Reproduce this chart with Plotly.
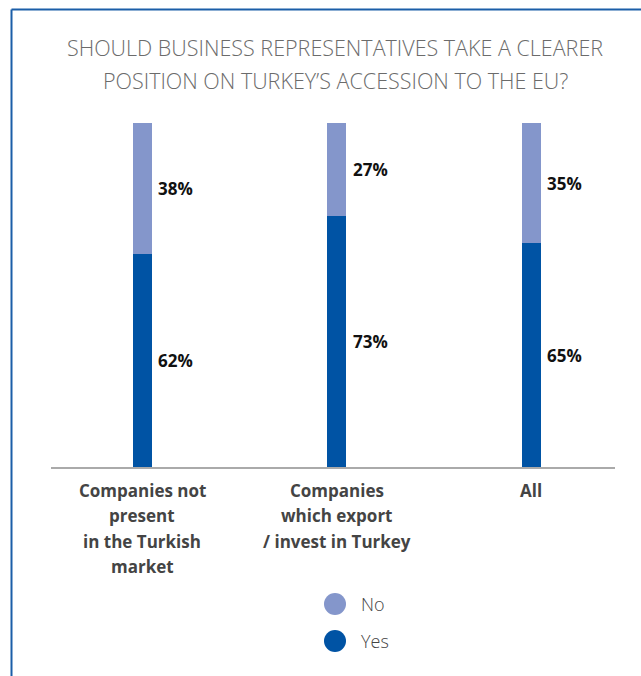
import plotly.graph_objects as go

categories = ["Companies not<br>present<br>in the Turkish<br>market",
              "Companies<br>which export<br>/ invest in Turkey",
              "All"]
yes_values = [62, 73, 65]
no_values = [38, 27, 35]
series_names = ["No", "Yes"]
title_lines = ["SHOULD BUSINESS REPRESENTATIVES TAKE A CLEARER",
               "POSITION ON TURKEY\u2019S ACCESSION TO THE EU?"]

YES_COLOR = "#0053a4"
NO_COLOR = "#8496cb"
FRAME_COLOR = "#1b5ea8"

W, H = 641, 676
L, R, T, B = 51, 26, 123, 209
PW, PH = W - L - R, H - T - B


def px(xp):
    return (xp - L) / PW


def py(yp):
    return (H - B - yp) / PH


xs = list(range(len(categories)))

fig = go.Figure()
fig.add_trace(go.Bar(x=xs, y=yes_values, name="Yes", marker_color=YES_COLOR,
                     width=0.098, showlegend=False, marker_line_width=0))
fig.add_trace(go.Bar(x=xs, y=no_values, name="No", marker_color=NO_COLOR,
                     width=0.098, showlegend=False, marker_line_width=0))

annotations = []
# value labels
for i, (yv, nv) in enumerate(zip(yes_values, no_values)):
    annotations.append(dict(x=i, y=yv / 2, xref="x", yref="y", text=f"<b>{yv}%</b>",
                            showarrow=False, xanchor="left", yanchor="middle", xshift=14,
                            font=dict(family="Open Sans", size=17, color="#111111")))
    annotations.append(dict(x=i, y=yv + nv / 2, xref="x", yref="y", text=f"<b>{nv}%</b>",
                            showarrow=False, xanchor="left", yanchor="middle", xshift=14,
                            font=dict(family="Open Sans", size=17, color="#111111")))

# category labels, one annotation per line
for i, cat in enumerate(categories):
    for j, line in enumerate(cat.split("<br>")):
        annotations.append(dict(x=i, y=0, xref="x", yref="y", text=f"<b>{line}</b>",
                                showarrow=False, xanchor="center", yanchor="middle",
                                yshift=-(23 + 25.5 * j),
                                font=dict(family="Open Sans", size=17, color="#444444")))

# title
for j, line in enumerate(title_lines):
    annotations.append(dict(x=px(335), y=py(47 + 33 * j), xref="paper", yref="paper",
                            text=line, showarrow=False, xanchor="center", yanchor="middle",
                            font=dict(family="Open Sans", size=21.5, color="#6b6b6b",
                                      weight=300)))

# legend (manual)
shapes = []
legend_colors = {"No": NO_COLOR, "Yes": YES_COLOR}
for j, name in enumerate(series_names):
    cy = 604 + 37 * j
    shapes.append(dict(type="circle", xref="paper", yref="paper",
                       x0=px(324), x1=px(346), y0=py(cy + 11), y1=py(cy - 11),
                       fillcolor=legend_colors[name], line=dict(width=0)))
    annotations.append(dict(x=px(359), y=py(cy), xref="paper", yref="paper", text=name,
                            showarrow=False, xanchor="left", yanchor="middle",
                            font=dict(family="Open Sans", size=18, color="#444444",
                                      weight=300)))

# frame
shapes.append(dict(type="line", xref="paper", yref="paper", x0=px(11.5), x1=px(645),
                   y0=py(9.5), y1=py(9.5), line=dict(color=FRAME_COLOR, width=2)))
shapes.append(dict(type="line", xref="paper", yref="paper", x0=px(11.5), x1=px(11.5),
                   y0=py(9.5), y1=py(680), line=dict(color=FRAME_COLOR, width=2)))

fig.update_layout(
    barmode="stack",
    width=W, height=H,
    margin=dict(l=L, r=R, t=T, b=B, pad=0),
    paper_bgcolor="white", plot_bgcolor="white",
    xaxis=dict(range=[-0.47, 2.43], showline=True, linecolor="#aaaaaa", linewidth=1.5,
               showticklabels=False, showgrid=False, zeroline=False, ticks=""),
    yaxis=dict(range=[0, 100], visible=False, showgrid=False, zeroline=False),
    annotations=annotations,
    shapes=shapes,
    showlegend=False,
)

fig.write_html("out.html", config={"displayModeBar": False},
               post_script="document.body.style.margin='0px';")
